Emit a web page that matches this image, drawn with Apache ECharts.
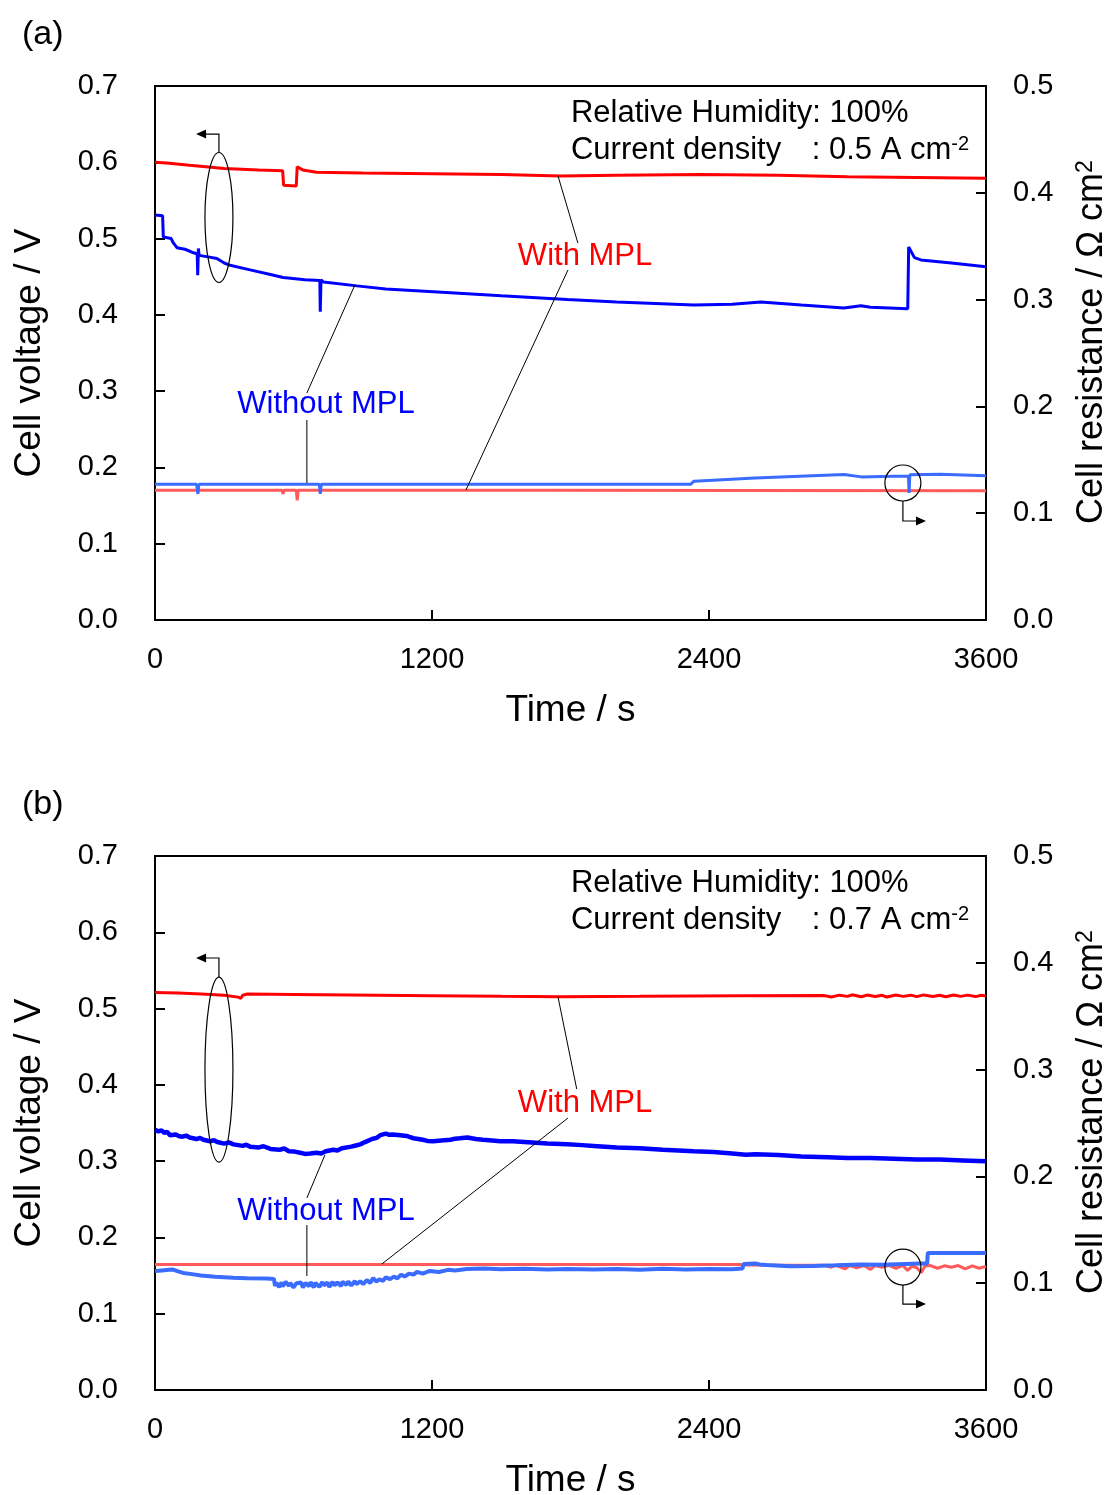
<!DOCTYPE html>
<html><head><meta charset="utf-8">
<script src="https://cdn.jsdelivr.net/npm/echarts@6/dist/echarts.min.js"></script>
<style>html,body{margin:0;padding:0;background:#fff}#c{width:1110px;height:1495px}</style>
</head><body><div id="c"></div>
<script>
// ---------------- data ----------------
const timeTicks = [0, 1200, 2400, 3600];
const voltageTicks = [0.0, 0.1, 0.2, 0.3, 0.4, 0.5, 0.6, 0.7];
const resistanceTicks = [0.0, 0.1, 0.2, 0.3, 0.4, 0.5];

// Panel (a): 0.5 A cm-2   [time s, value]
const aRedV = [[0,0.600],[50,0.599],[150,0.596],[300,0.592],[450,0.590],[553,0.589],[557,0.570],[612,0.569],[616,0.594],[640,0.590],[700,0.587],[900,0.586],[1200,0.585],[1500,0.584],[1756,0.582],[2000,0.583],[2363,0.584],[2700,0.583],[3000,0.581],[3300,0.580],[3600,0.579]];
const aBlueV = [[0,0.531],[33,0.530],[36,0.502],[70,0.500],[78,0.495],[95,0.488],[130,0.486],[170,0.481],[183,0.480],[185,0.452],[188,0.487],[191,0.478],[230,0.476],[268,0.474],[300,0.468],[325,0.465],[412,0.459],[500,0.453],[555,0.449],[650,0.446],[714,0.445],[716,0.404],[719,0.446],[730,0.443],[875,0.438],[1000,0.434],[1280,0.429],[1500,0.425],[1786,0.420],[2000,0.417],[2334,0.413],[2500,0.414],[2625,0.417],[2800,0.413],[2985,0.409],[3058,0.412],[3100,0.410],[3261,0.408],[3265,0.489],[3290,0.475],[3318,0.472],[3450,0.468],[3600,0.463]];
const aBlueR = [[0,0.127],[180,0.127],[186,0.118],[190,0.127],[712,0.127],[716,0.118],[720,0.127],[1500,0.127],[2320,0.127],[2335,0.130],[2600,0.133],[2985,0.1362],[3060,0.134],[3200,0.1345],[3264,0.1345],[3267,0.119],[3270,0.136],[3400,0.1365],[3600,0.135]];
const aRedR = [[0,0.1215],[550,0.1215],[555,0.118],[558,0.1215],[612,0.1215],[616,0.112],[620,0.1215],[1700,0.1215],[2540,0.1212],[2545,0.1208],[3600,0.1210]];

// Panel (b): 0.7 A cm-2
const bRedV = [[0,0.521],[100,0.5205],[200,0.519],[300,0.5175],[360,0.515],[372,0.5135],[380,0.5175],[400,0.519],[600,0.5185],[846,0.5178],[1200,0.5168],[1500,0.516],[1756,0.5155],[2100,0.516],[2550,0.5168],[2900,0.517],[2930,0.5152],[2965,0.5176],[3000,0.5160],[3020,0.5180],[3060,0.5155],[3085,0.5177],[3120,0.5158],[3150,0.5174],[3170,0.5152],[3210,0.5178],[3240,0.5160],[3275,0.5176],[3300,0.5156],[3330,0.5179],[3370,0.5158],[3400,0.5175],[3425,0.5155],[3460,0.5178],[3490,0.5160],[3520,0.5176],[3555,0.5157],[3580,0.5174],[3600,0.5165]];
const bBlueV = [[0,0.341],[15,0.339],[28,0.3405],[40,0.337],[52,0.3385],[65,0.334],[90,0.335],[105,0.3325],[120,0.332],[135,0.3335],[150,0.331],[180,0.329],[195,0.3305],[210,0.328],[238,0.326],[255,0.3275],[270,0.325],[300,0.323],[320,0.3245],[340,0.322],[380,0.320],[395,0.3215],[412,0.319],[450,0.318],[470,0.3195],[500,0.316],[540,0.315],[560,0.3165],[580,0.313],[605,0.3125],[629,0.311],[650,0.3095],[672,0.310],[700,0.311],[720,0.3100],[740,0.313],[772,0.315],[790,0.3140],[810,0.317],[850,0.319],[870,0.3205],[889,0.322],[910,0.325],[940,0.329],[960,0.3305],[976,0.334],[1000,0.336],[1015,0.3345],[1030,0.335],[1062,0.334],[1090,0.333],[1105,0.3315],[1120,0.330],[1160,0.328],[1180,0.3265],[1205,0.326],[1240,0.327],[1280,0.328],[1300,0.3295],[1320,0.330],[1353,0.331],[1390,0.329],[1420,0.328],[1460,0.327],[1496,0.326],[1550,0.326],[1600,0.325],[1650,0.324],[1700,0.323],[1786,0.322],[1850,0.321],[1900,0.320],[2000,0.318],[2100,0.317],[2200,0.315],[2334,0.313],[2420,0.312],[2500,0.310],[2560,0.3085],[2600,0.309],[2700,0.308],[2800,0.306],[2914,0.305],[3000,0.304],[3100,0.304],[3200,0.303],[3300,0.302],[3400,0.302],[3500,0.301],[3600,0.300]];
const bBlueR = [[0,0.1115],[30,0.1120],[60,0.1125],[78,0.1128],[100,0.1110],[122,0.1096],[160,0.1085],[200,0.1072],[260,0.1060],[338,0.1050],[400,0.1046],[484,0.1044],[515,0.1040],[520,0.0975],[526,0.1005],[538,0.0962],[548,0.1008],[553,0.0970],[566,0.1012],[581,0.0975],[586,0.1002],[599,0.0960],[613,0.1000],[619,0.0982],[633,0.1006],[641,0.0958],[652,0.1003],[667,0.0972],[674,0.1010],[688,0.0961],[695,0.1004],[712,0.0966],[725,0.1011],[731,0.0980],[747,0.1006],[755,0.0964],[769,0.1012],[778,0.0978],[790,0.1008],[806,0.0972],[812,0.1014],[829,0.0984],[837,0.1016],[850,0.0978],[866,0.1020],[873,0.0990],[889,0.1018],[902,0.0992],[918,0.1030],[932,0.1002],[945,0.1048],[958,0.1016],[972,0.1035],[988,0.1022],[1000,0.1055],[1018,0.1038],[1035,0.1062],[1050,0.1045],[1066,0.1080],[1082,0.1062],[1100,0.1090],[1120,0.1080],[1135,0.1106],[1160,0.1090],[1190,0.1115],[1230,0.1105],[1270,0.1125],[1300,0.1118],[1350,0.1132],[1424,0.1137],[1500,0.1130],[1600,0.1136],[1700,0.1128],[1786,0.1132],[1900,0.1128],[2000,0.1134],[2100,0.1127],[2200,0.1135],[2300,0.1128],[2400,0.1134],[2500,0.1130],[2545,0.1137],[2550,0.1180],[2600,0.1184],[2620,0.1176],[2650,0.1170],[2654,0.1152],[2750,0.1158],[2850,0.1162],[2950,0.1168],[3058,0.1175],[3150,0.1172],[3250,0.1180],[3318,0.1184],[3345,0.1184],[3348,0.1283],[3600,0.1283]];
const bRedR = [[0,0.1175],[500,0.1175],[1000,0.1176],[1500,0.1174],[2000,0.1175],[2540,0.1175],[2550,0.1170],[2900,0.1168],[2930,0.1150],[2950,0.1168],[2990,0.1135],[3010,0.1165],[3040,0.1145],[3070,0.1166],[3100,0.1130],[3120,0.1165],[3150,0.1150],[3180,0.1168],[3210,0.1140],[3240,0.1166],[3260,0.1120],[3280,0.1160],[3300,0.1145],[3320,0.1100],[3335,0.1160],[3360,0.1165],[3390,0.1140],[3420,0.1163],[3450,0.1150],[3480,0.1165],[3510,0.1135],[3540,0.1162],[3570,0.1140],[3600,0.1158]];

const panelLabels = ['(a)', '(b)'];
const currentLabels = [': 0.5 A cm', ': 0.7 A cm'];

// annotation anchors in data units [time, voltage]
const annots = [
  { ell:[277,0.5276,60.6,0.0852], bracket:[[277,0.6134],[277,0.637],[178,0.637]],
    circ:[3240,0.1796], circArrow:[[3240,0.156],[3240,0.1298],[3340,0.1298]],
    leaders:[[[1746,0.582],[1832,0.4942]],[[1789,0.4588],[1347,0.1704]],[[866,0.4391],[658,0.2976]],[[658,0.2622],[658,0.1796]]],
    withPos:[1863,0.4771], withoutPos:[741,0.2831], infoPos:[[1802,0.6646],[2845,0.616]] },
  { ell:[277,0.420,60.6,0.1212], bracket:[[277,0.5414],[277,0.5663],[178,0.5663]],
    circ:[3240,0.1612], circArrow:[[3240,0.1376],[3240,0.1127],[3340,0.1127]],
    leaders:[[[1746,0.5151],[1827,0.3945]],[[1789,0.3565],[983,0.1652]],[[736,0.308],[658,0.2517]],[[658,0.2163],[658,0.1494]]],
    withPos:[1863,0.3762], withoutPos:[741,0.2346], infoPos:[[1802,0.6646],[2845,0.616]] }
];

// ---------------- chart ----------------
const F = '"Liberation Sans", Arial, Helvetica, sans-serif';
const chart = echarts.init(document.getElementById('c'), null, {renderer:'canvas'});
const gridTops = [86, 856];

function xAx(g){
  return {type:'value', gridIndex:g, min:timeTicks[0], max:timeTicks[timeTicks.length-1], interval:timeTicks[1]-timeTicks[0],
    axisLine:{show:true, onZero:false, lineStyle:{color:'#000', width:2}},
    axisTick:{show:true, inside:true, length:10, lineStyle:{color:'#000', width:2}},
    axisLabel:{color:'#000', fontSize:29, fontFamily:F, margin:25, formatter:v=>String(v)},
    splitLine:{show:false},
    name:'Time / s', nameLocation:'middle', nameGap:72,
    nameTextStyle:{color:'#000', fontSize:37, fontFamily:F}};
}
function yAx(g, right){
  const t = right ? resistanceTicks : voltageTicks;
  return {type:'value', gridIndex:g, position: right ? 'right' : 'left',
    min:t[0], max:t[t.length-1], interval:0.1,
    axisLine:{show:true, onZero:false, lineStyle:{color:'#000', width:2}},
    axisTick:{show:true, inside:true, length:10, lineStyle:{color:'#000', width:2}},
    axisLabel:{color:'#000', fontSize:29, fontFamily:F, margin: right ? 27 : 37, padding:[4,0,0,0], formatter:v=>v.toFixed(1)},
    splitLine:{show:false},
    name: right ? 'Cell resistance / Ω cm{s|2}' : 'Cell voltage / V',
    nameLocation:'middle', nameGap: right ? 88 : 107,
    nameTextStyle:{color:'#000', fontSize: right ? 36 : 37, fontFamily:F, padding: right ? [0,0,0,22] : 0,
      rich:{s:{fontSize:23, fontFamily:F, color:'#000', verticalAlign:'top', padding:[0,0,14,0]}}}};
}
function ln(g, yi, data, color, w, z){
  return {type:'line', xAxisIndex:g, yAxisIndex:yi, data:data, symbol:'none', showSymbol:false,
    lineStyle:{color:color, width:w}, itemStyle:{color:color}, z:z, silent:true, animation:false};
}

const RED='#ff0000', BLUE='#0000ff', RRED='#ff5a5a', RBLUE='#3a6cff';
chart.setOption({
  animation:false,
  backgroundColor:'#fff',
  grid: gridTops.map(t=>({left:155, top:t, width:831, height:534, show:true, borderColor:'#000', borderWidth:2,
    backgroundColor:'transparent', containLabel:false, outerBoundsMode:'none'})),
  xAxis:[xAx(0), xAx(1)],
  yAxis:[yAx(0,false), yAx(0,true), yAx(1,false), yAx(1,true)],
  series:[
    ln(0,1,aRedR,RRED,3,2), ln(0,1,aBlueR,RBLUE,3,3),
    ln(0,0,aRedV,RED,3,4), ln(0,0,aBlueV,BLUE,3,5),
    ln(1,3,bRedR,RRED,3,2), ln(1,3,bBlueR,RBLUE,4,3),
    ln(1,2,bRedV,RED,3,4), ln(1,2,bBlueV,BLUE,4.5,5)
  ]
});

// ---------------- annotations ----------------
const gfx = [];
function P(g, d){ return chart.convertToPixel({xAxisIndex:g, yAxisIndex:g*2}, d); }
const thin = {stroke:'#000', lineWidth:1.2, fill:null};
annots.forEach((a, g)=>{
  const c = P(g, [a.ell[0], a.ell[1]]);
  const e = P(g, [a.ell[0]+a.ell[2], a.ell[1]+a.ell[3]]);
  gfx.push({type:'ellipse', shape:{cx:c[0], cy:c[1], rx:Math.abs(e[0]-c[0]), ry:Math.abs(e[1]-c[1])}, style:Object.assign({}, thin), z:10});
  const br = a.bracket.map(p=>P(g,p));
  gfx.push({type:'polyline', shape:{points:br.slice(0,2).concat([[br[2][0]+9, br[2][1]]])}, style:{stroke:'#000', lineWidth:1.2}, z:10});
  gfx.push({type:'polygon', shape:{points:[[br[2][0], br[2][1]],[br[2][0]+10, br[2][1]-4.5],[br[2][0]+10, br[2][1]+4.5]]}, style:{fill:'#000'}, z:10});
  const cc = P(g, a.circ);
  gfx.push({type:'circle', shape:{cx:cc[0], cy:cc[1], r:18}, style:Object.assign({}, thin), z:10});
  const ca = a.circArrow.map(p=>P(g,p));
  gfx.push({type:'polyline', shape:{points:ca.slice(0,2).concat([[ca[2][0]-9, ca[2][1]]])}, style:{stroke:'#000', lineWidth:1.2}, z:10});
  gfx.push({type:'polygon', shape:{points:[[ca[2][0], ca[2][1]],[ca[2][0]-10, ca[2][1]-4.5],[ca[2][0]-10, ca[2][1]+4.5]]}, style:{fill:'#000'}, z:10});
  a.leaders.forEach(l=>{
    const p1 = P(g,l[0]), p2 = P(g,l[1]);
    gfx.push({type:'line', shape:{x1:p1[0], y1:p1[1], x2:p2[0], y2:p2[1]}, style:{stroke:'#000', lineWidth:1}, z:10});
  });
  const wp = P(g, a.withPos), wop = P(g, a.withoutPos);
  gfx.push({type:'text', x:wp[0], y:wp[1], style:{text:'With MPL', fill:RED, font:'31px '+F, align:'center', verticalAlign:'middle'}, z:11});
  gfx.push({type:'text', x:wop[0], y:wop[1], style:{text:'Without MPL', fill:BLUE, font:'31px '+F, align:'center', verticalAlign:'middle'}, z:11});
  const i1 = P(g, a.infoPos[0]), i2 = P(g, a.infoPos[1]);
  gfx.push({type:'text', x:i1[0], y:i1[1], style:{text:'Relative Humidity: 100%', fill:'#000', font:'31px '+F, align:'left', verticalAlign:'middle'}, z:11});
  gfx.push({type:'text', x:i1[0], y:i2[1], style:{text:'Current density', fill:'#000', font:'31px '+F, align:'left', verticalAlign:'middle'}, z:11});
  gfx.push({type:'text', x:i2[0], y:i2[1], style:{text:'{b|'+currentLabels[g]+'}{s|-2}', align:'left', verticalAlign:'middle',
    rich:{b:{fontSize:31, fontFamily:F, fill:'#000', color:'#000'}, s:{fontSize:20, fontFamily:F, fill:'#000', color:'#000', verticalAlign:'top'}}}, z:11});
  gfx.push({type:'text', x:22, y:gridTops[g]-51, style:{text:panelLabels[g], fill:'#000', font:'34px '+F, align:'left', verticalAlign:'middle'}, z:11});
});
chart.setOption({graphic:gfx});
</script>
</body></html>
